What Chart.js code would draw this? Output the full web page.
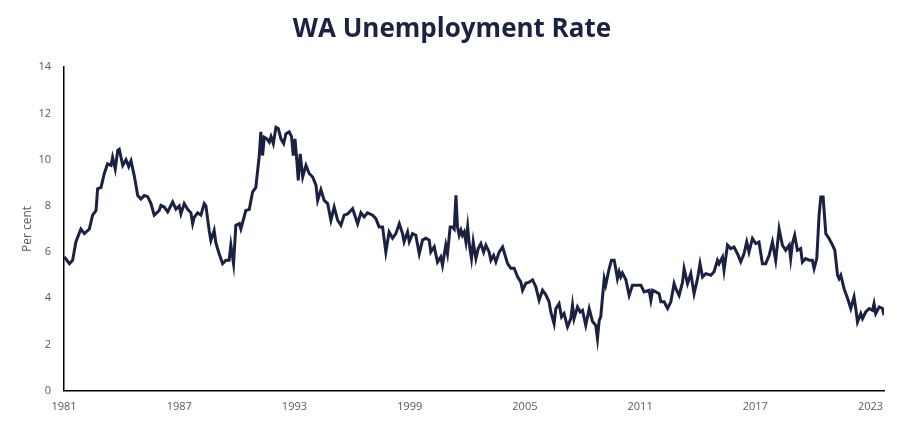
<!DOCTYPE html>
<html>
<head>
    <title>WA Unemployment Rate</title>
    <script src="https://cdn.jsdelivr.net/npm/chart.js"></script>
    <style>
        html, body { margin: 0; padding: 0; background: #fff; }
        #wrap { width: 900px; height: 422px; }
    </style>
</head>
<body>
    <div id="wrap"><canvas id="rateChart"></canvas></div>

    <script>
        // Values (year as decimal, rate in per cent)
        const years = [
            1981.02, 1981.28, 1981.45, 1981.62, 1981.88, 1982.06, 1982.32, 1982.49, 1982.67, 1982.75,
            1982.93, 1983.10, 1983.27, 1983.45, 1983.53, 1983.67, 1983.80, 1983.88, 1984.06, 1984.23,
            1984.37, 1984.49, 1984.66, 1984.84, 1985.01, 1985.18, 1985.36, 1985.53, 1985.70, 1985.96,
            1986.05, 1986.22, 1986.40, 1986.66, 1986.83, 1987.00, 1987.09, 1987.26, 1987.44, 1987.61,
            1987.70, 1987.78, 1987.96, 1988.13, 1988.30, 1988.39, 1988.56, 1988.65, 1988.82, 1988.91,
            1989.08, 1989.26, 1989.43, 1989.60, 1989.69, 1989.83, 1989.95, 1990.13, 1990.21, 1990.47,
            1990.65, 1990.82, 1990.99, 1991.17, 1991.25, 1991.34, 1991.43, 1991.57, 1991.69, 1991.78,
            1991.90, 1992.04, 1992.16, 1992.30, 1992.44, 1992.56, 1992.73, 1992.85, 1992.94, 1993.03,
            1993.13, 1993.20, 1993.30, 1993.43, 1993.60, 1993.77, 1993.95, 1994.12, 1994.21, 1994.38,
            1994.55, 1994.73, 1994.90, 1995.07, 1995.25, 1995.42, 1995.59, 1995.77, 1995.94, 1996.03,
            1996.29, 1996.46, 1996.63, 1996.81, 1997.07, 1997.24, 1997.41, 1997.59, 1997.76, 1997.93,
            1998.11, 1998.28, 1998.46, 1998.63, 1998.71, 1998.89, 1998.98, 1999.15, 1999.32, 1999.50,
            1999.67, 1999.84, 2000.02, 2000.10, 2000.28, 2000.45, 2000.62, 2000.71, 2000.88, 2000.97,
            2001.11, 2001.23, 2001.32, 2001.41, 2001.49, 2001.58, 2001.67, 2001.75, 2001.84, 2001.93,
            2002.02, 2002.10, 2002.22, 2002.31, 2002.45, 2002.57, 2002.71, 2002.85, 2002.97, 2003.14,
            2003.23, 2003.37, 2003.49, 2003.66, 2003.84, 2003.92, 2004.10, 2004.27, 2004.44, 2004.62,
            2004.79, 2004.88, 2005.05, 2005.22, 2005.40, 2005.57, 2005.74, 2005.92, 2006.09, 2006.26,
            2006.35, 2006.52, 2006.61, 2006.78, 2006.91, 2007.04, 2007.22, 2007.39, 2007.48, 2007.56,
            2007.74, 2007.88, 2008.00, 2008.17, 2008.35, 2008.52, 2008.69, 2008.78, 2008.87, 2008.95,
            2009.13, 2009.21, 2009.39, 2009.51, 2009.65, 2009.73, 2009.82, 2009.91, 2009.99, 2010.08,
            2010.26, 2010.43, 2010.60, 2010.86, 2011.04, 2011.21, 2011.47, 2011.56, 2011.65, 2011.82,
            2011.99, 2012.08, 2012.25, 2012.43, 2012.60, 2012.77, 2012.86, 2013.03, 2013.21, 2013.29,
            2013.47, 2013.64, 2013.81, 2013.99, 2014.12, 2014.25, 2014.42, 2014.68, 2014.85, 2015.03,
            2015.11, 2015.29, 2015.37, 2015.55, 2015.72, 2015.89, 2016.07, 2016.24, 2016.41, 2016.55,
            2016.67, 2016.85, 2017.02, 2017.19, 2017.37, 2017.54, 2017.72, 2017.89, 2018.06, 2018.24,
            2018.41, 2018.58, 2018.76, 2018.84, 2018.93, 2019.05, 2019.19, 2019.36, 2019.45, 2019.62,
            2019.80, 2019.97, 2020.06, 2020.20, 2020.32, 2020.41, 2020.53, 2020.67, 2020.84, 2021.02,
            2021.14, 2021.28, 2021.36, 2021.45, 2021.62, 2021.80, 2021.97, 2022.14, 2022.23, 2022.32,
            2022.49, 2022.58, 2022.75, 2022.93, 2023.10, 2023.18, 2023.27, 2023.45, 2023.62, 2023.70
        ];
        const rates = [
            5.79, 5.50, 5.65, 6.44, 7.00, 6.80, 7.00, 7.60, 7.80, 8.74,
            8.80, 9.40, 9.82, 9.75, 10.10, 9.60, 10.40, 10.45, 9.75, 10.00,
            9.70, 9.95, 9.30, 8.45, 8.30, 8.45, 8.40, 8.10, 7.60, 7.80,
            8.02, 7.95, 7.74, 8.17, 7.86, 8.00, 7.65, 8.10, 7.85, 7.70,
            7.23, 7.50, 7.70, 7.60, 8.10, 8.00, 6.94, 6.50, 6.94, 6.40,
            5.93, 5.50, 5.65, 5.65, 6.30, 5.50, 7.16, 7.23, 7.00, 7.80,
            7.85, 8.60, 8.80, 10.18, 11.20, 10.18, 10.97, 10.90, 10.76, 11.00,
            10.70, 11.40, 11.35, 10.90, 10.70, 11.12, 11.20, 11.00, 10.18, 10.90,
            9.90, 9.10, 10.25, 9.25, 9.75, 9.40, 9.25, 8.90, 8.24, 8.70,
            8.24, 8.10, 7.38, 7.95, 7.38, 7.16, 7.60, 7.65, 7.80, 7.88,
            7.23, 7.70, 7.52, 7.70, 7.60, 7.45, 7.09, 7.09, 6.00, 6.87,
            6.60, 6.80, 7.23, 6.80, 6.45, 6.87, 6.45, 6.80, 6.73, 5.93,
            6.52, 6.60, 6.52, 6.00, 6.23, 5.57, 5.79, 5.43, 6.30, 5.93,
            7.09, 7.09, 7.00, 8.46, 7.09, 6.73, 6.95, 6.73, 6.87, 6.44,
            7.09, 6.37, 5.72, 6.44, 5.72, 6.15, 6.37, 6.00, 6.30, 6.00,
            5.65, 5.86, 5.58, 6.00, 6.22, 6.00, 5.50, 5.30, 5.30, 4.93,
            4.70, 4.35, 4.65, 4.70, 4.80, 4.50, 3.92, 4.35, 4.15, 3.85,
            3.41, 2.90, 3.55, 3.77, 3.20, 3.34, 2.77, 3.12, 3.70, 3.12,
            3.63, 3.41, 3.48, 2.83, 3.55, 3.00, 2.83, 2.26, 3.05, 3.20,
            4.85, 4.57, 5.29, 5.65, 5.65, 5.29, 4.85, 5.15, 4.93, 5.10,
            4.80, 4.13, 4.57, 4.57, 4.57, 4.28, 4.35, 3.92, 4.35, 4.28,
            4.20, 3.85, 3.85, 3.56, 3.85, 4.64, 4.42, 4.13, 4.70, 5.29,
            4.64, 5.07, 4.20, 4.85, 5.50, 4.93, 5.07, 5.00, 5.15, 5.65,
            5.50, 5.79, 5.22, 6.30, 6.15, 6.22, 5.93, 5.58, 5.93, 6.44,
            6.00, 6.59, 6.37, 6.44, 5.50, 5.50, 5.86, 6.44, 5.65, 7.00,
            6.30, 6.08, 6.30, 5.72, 6.37, 6.73, 6.08, 6.15, 5.57, 5.72,
            5.65, 5.65, 5.29, 5.72, 7.60, 8.38, 8.38, 6.80, 6.59, 6.30,
            6.08, 5.00, 4.85, 5.00, 4.42, 4.00, 3.56, 4.06, 3.56, 2.98,
            3.34, 3.12, 3.41, 3.56, 3.48, 3.77, 3.34, 3.63, 3.56, 3.27
        ];
        const yearTicks = [1981, 1987, 1993, 1999, 2005, 2011, 2017, 2023];
        const rateTicks = [0, 2, 4, 6, 8, 10, 12, 14];

        const points = years.map((y, i) => ({ x: y, y: rates[i] }));

        // Chart setup
        const chart = new Chart(document.getElementById('rateChart').getContext('2d'), {
            type: 'line',
            data: {
                datasets: [{
                    label: 'WA unemployment rate',
                    data: points,
                    borderColor: '#1a2142',
                    borderWidth: 3,
                    pointRadius: 0,
                    fill: false,
                    tension: 0
                }]
            },
            options: {
                responsive: true,
                maintainAspectRatio: false,
                animation: false,
                layout: { padding: { left: 20, right: 16, top: 6, bottom: 0 } },
                plugins: {
                    legend: { display: false },
                    tooltip: { enabled: false },
                    title: {
                        display: true,
                        text: 'WA Unemployment Rate',
                        color: '#1c2242',
                        font: { family: 'Open Sans', size: 26, weight: 'bold' },
                        padding: { top: 8, bottom: 22 }
                    }
                },
                scales: {
                    x: {
                        type: 'linear',
                        min: 1981,
                        max: 2023.7,
                        grid: { display: false, drawTicks: false },
                        border: { display: true, color: '#000', width: 1.5 },
                        afterBuildTicks: s => { s.ticks = yearTicks.map(v => ({ value: v })); },
                        ticks: {
                            color: '#595959',
                            font: { family: 'Open Sans', size: 11 },
                            padding: 9,
                            maxRotation: 0,
                            callback: v => String(v)
                        }
                    },
                    y: {
                        min: 0,
                        max: 14,
                        grid: { display: false, drawTicks: false },
                        border: { display: true, color: '#000', width: 1.5 },
                        afterBuildTicks: s => { s.ticks = rateTicks.map(v => ({ value: v })); },
                        ticks: {
                            color: '#595959',
                            font: { family: 'Open Sans', size: 11 },
                            padding: 13
                        },
                        title: {
                            display: true,
                            text: 'Per cent',
                            color: '#595959',
                            font: { family: 'Open Sans', size: 12 },
                            padding: { top: 0, bottom: -9 }
                        }
                    }
                }
            }
        });
    </script>
</body>
</html>
